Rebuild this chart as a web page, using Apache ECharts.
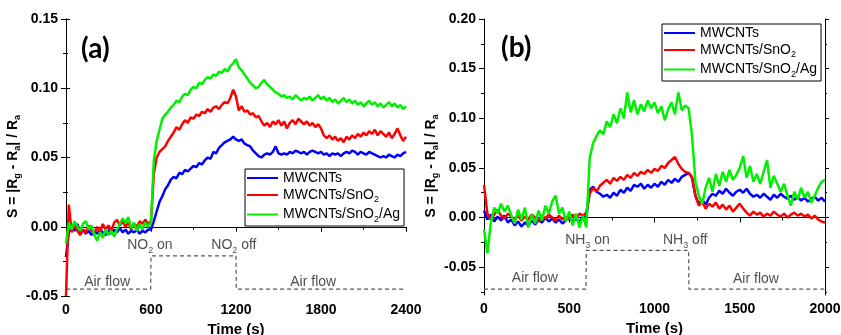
<!DOCTYPE html>
<html>
<head>
<meta charset="utf-8">
<script src="https://cdn.jsdelivr.net/npm/echarts@6/dist/echarts.min.js"></script>
<style>
  html, body { margin: 0; padding: 0; background: #fff; }
  #chart { width: 841px; height: 335px; }
</style>
</head>
<body>
<div id="chart"></div>
<script>
// Panel (a): NO2 response, sampled every 20 s from 0 to 2400 s
const stepA = 20;
const mwcntA = [
  -0.022, -0.004, 0.001, -0.003, 0.002, -0.004, -0.002, -0.005, -0.003, -0.006,
  -0.003, -0.005, -0.002, -0.004, -0.006, -0.003, -0.005, -0.002, -0.004, -0.001,
  -0.004, -0.002, -0.005, -0.003, -0.004, -0.002, -0.005, -0.003, -0.004, -0.002,
  -0.002, 0.004, 0.011, 0.018, 0.022, 0.027, 0.030, 0.034, 0.036, 0.035,
  0.039, 0.038, 0.041, 0.040, 0.042, 0.044, 0.043, 0.046, 0.045, 0.048,
  0.050, 0.049, 0.054, 0.053, 0.057, 0.059, 0.061, 0.062, 0.063, 0.065,
  0.063, 0.062, 0.063, 0.060, 0.059, 0.058, 0.055, 0.053, 0.051, 0.050,
  0.052, 0.053, 0.052, 0.054, 0.058, 0.053, 0.052, 0.053, 0.052, 0.054,
  0.053, 0.055, 0.054, 0.053, 0.054, 0.052, 0.054, 0.055, 0.054, 0.053,
  0.054, 0.052, 0.053, 0.051, 0.053, 0.052, 0.053, 0.051, 0.053, 0.054,
  0.053, 0.055, 0.054, 0.052, 0.054, 0.053, 0.052, 0.054, 0.053, 0.052,
  0.051, 0.050, 0.051, 0.050, 0.052, 0.051, 0.050, 0.052, 0.051, 0.053,
  0.054
];
const snoA = [
  -0.050, 0.016, -0.004, 0.002, -0.003, -0.006, -0.002, -0.004, 0.001, -0.003,
  -0.005, 0.000, -0.004, 0.002, -0.002, 0.001, -0.003, 0.003, 0.005, 0.001,
  0.004, 0.000, 0.003, -0.002, 0.002, 0.000, 0.004, 0.002, 0.005, 0.002,
  0.004, 0.038, 0.050, 0.054, 0.056, 0.058, 0.062, 0.065, 0.068, 0.072,
  0.070, 0.074, 0.077, 0.075, 0.079, 0.078, 0.081, 0.080, 0.083, 0.082,
  0.085, 0.083, 0.086, 0.087, 0.085, 0.088, 0.090, 0.089, 0.093, 0.099,
  0.094, 0.084, 0.087, 0.083, 0.084, 0.081, 0.082, 0.079, 0.080, 0.076,
  0.073, 0.075, 0.072, 0.076, 0.074, 0.077, 0.073, 0.076, 0.071, 0.075,
  0.077, 0.074, 0.078, 0.076, 0.074, 0.076, 0.073, 0.075, 0.072, 0.074,
  0.071, 0.066, 0.064, 0.066, 0.063, 0.065, 0.062, 0.064, 0.061, 0.065,
  0.063, 0.066, 0.064, 0.067, 0.065, 0.068, 0.066, 0.069, 0.067, 0.070,
  0.066, 0.069, 0.067, 0.065, 0.068, 0.064, 0.067, 0.071, 0.066, 0.062,
  0.065
];
const agA = [
  -0.012, 0.003, -0.002, 0.004, 0.000, -0.003, 0.002, 0.004, -0.002, 0.001,
  -0.006, -0.010, -0.004, -0.008, -0.002, -0.006, -0.003, -0.007, -0.002, 0.002,
  0.006, 0.003, 0.007, -0.001, 0.003, -0.003, 0.002, -0.002, 0.003, 0.000,
  0.003, 0.048, 0.062, 0.070, 0.078, 0.081, 0.083, 0.086, 0.088, 0.091,
  0.090, 0.094, 0.096, 0.095, 0.099, 0.101, 0.100, 0.104, 0.103, 0.106,
  0.108, 0.107, 0.110, 0.109, 0.112, 0.111, 0.114, 0.112, 0.116, 0.118,
  0.121, 0.115, 0.113, 0.110, 0.107, 0.104, 0.102, 0.100, 0.101, 0.104,
  0.106, 0.103, 0.101, 0.099, 0.097, 0.096, 0.094, 0.095, 0.093, 0.094,
  0.092, 0.095, 0.093, 0.091, 0.093, 0.092, 0.094, 0.091, 0.093, 0.095,
  0.092, 0.094, 0.091, 0.093, 0.090, 0.092, 0.089, 0.091, 0.093, 0.090,
  0.092, 0.089, 0.091, 0.088, 0.090, 0.087, 0.089, 0.091, 0.088, 0.090,
  0.087, 0.089, 0.086, 0.088, 0.090, 0.087, 0.089, 0.086, 0.088, 0.085,
  0.087
];

// Panel (b): NH3 response, sampled every 20 s from 0 to 2000 s
const stepB = 20;
const mwcntB = [
  0.007, -0.002, 0.003, -0.004, 0.001, -0.003, 0.002, -0.005, -0.002, -0.008,
  -0.004, -0.009, -0.005, -0.008, -0.003, -0.007, -0.002, -0.005, 0.000, -0.004,
  -0.001, -0.005, -0.002, -0.006, -0.003, 0.001, -0.004, -0.001, -0.005, 0.002,
  0.000, 0.028, 0.031, 0.026, 0.024, 0.021, 0.023, 0.020, 0.025, 0.022,
  0.028, 0.025, 0.030, 0.027, 0.033, 0.031, 0.034, 0.029, 0.033, 0.030,
  0.034, 0.031, 0.036, 0.033, 0.038, 0.035, 0.039, 0.036, 0.041, 0.043,
  0.045, 0.040, 0.022, 0.014, 0.018, 0.013, 0.020, 0.024, 0.022, 0.027,
  0.024, 0.029, 0.025, 0.022, 0.026, 0.028, 0.025, 0.029, 0.024, 0.021,
  0.023, 0.020, 0.024, 0.021, 0.018, 0.023, 0.020, 0.024, 0.021, 0.019,
  0.022, 0.018, 0.021, 0.017, 0.020, 0.016, 0.019, 0.021, 0.017, 0.020,
  0.016
];
const snoB = [
  0.033, 0.004, -0.002, 0.003, 0.008, 0.002, -0.001, 0.004, 0.001, -0.002,
  0.002, -0.003, 0.001, -0.002, 0.003, 0.000, -0.004, 0.002, -0.001, 0.003,
  0.000, -0.003, 0.002, -0.002, 0.001, -0.002, 0.003, -0.001, 0.004, 0.002,
  0.005, 0.024, 0.030, 0.026, 0.032, 0.035, 0.038, 0.034, 0.040, 0.037,
  0.041, 0.038, 0.043, 0.040, 0.045, 0.042, 0.046, 0.044, 0.048, 0.045,
  0.049, 0.047, 0.052, 0.050, 0.055, 0.058, 0.061, 0.054, 0.049, 0.046,
  0.045, 0.041, 0.022, 0.012, 0.016, 0.009, 0.014, 0.011, 0.015, 0.009,
  0.013, 0.008, 0.012, 0.006, 0.010, 0.014, 0.009, 0.005, 0.002, 0.006,
  0.003, 0.005, 0.001, 0.004, 0.002, 0.006, 0.003, 0.001, 0.004, 0.000,
  0.003, 0.005, 0.002, 0.004, 0.001, 0.003, -0.001, 0.002, -0.002, -0.004,
  -0.005
];
const agB = [
  -0.012, -0.036, -0.005, 0.010, 0.004, 0.014, 0.006, 0.012, 0.002, -0.006,
  0.008, -0.002, 0.010, -0.010, 0.003, -0.006, 0.007, -0.003, 0.012, 0.004,
  0.016, 0.022, 0.004, 0.010, -0.004, 0.006, -0.008, 0.004, -0.010, 0.002,
  -0.010, 0.060, 0.075, 0.082, 0.088, 0.084, 0.097, 0.091, 0.104, 0.095,
  0.110, 0.100, 0.126, 0.106, 0.118, 0.104, 0.114, 0.107, 0.118, 0.110,
  0.116, 0.105, 0.112, 0.098, 0.109, 0.116, 0.104, 0.126, 0.108, 0.113,
  0.110, 0.083, 0.036, 0.022, 0.014, 0.030, 0.040, 0.026, 0.044, 0.032,
  0.046, 0.036, 0.048, 0.038, 0.043, 0.050, 0.062, 0.040, 0.052, 0.036,
  0.044, 0.034, 0.046, 0.058, 0.030, 0.042, 0.034, 0.026, 0.034, 0.022,
  0.012, 0.026, 0.018, 0.030, 0.020, 0.026, 0.015, 0.022, 0.030, 0.036,
  0.038
];

// Gas on/off schedule traces (time, level)
const flowA = [[0, -0.045], [598, -0.045], [600, -0.021], [1200, -0.021], [1202, -0.045], [2400, -0.045]];
const flowB = [[0, -0.072], [598, -0.072], [600, -0.033], [1200, -0.033], [1202, -0.072], [2000, -0.072]];
const notesA = [[290, -0.040, 'Air flow'], [592, -0.0135, 'NO{sub|2} on'], [1185, -0.0135, 'NO{sub|2} off'], [1745, -0.040, 'Air flow']];
const notesB = [[298, -0.0615, 'Air flow'], [607, -0.0228, 'NH{sub|3} on'], [1180, -0.0228, 'NH{sub|3} off'], [1595, -0.0622, 'Air flow']];

const seriesNames = ['MWCNTs', 'MWCNTs/SnO2', 'MWCNTs/SnO2/Ag'];
const seriesColors = ['#0000ff', '#ff0000', '#00f000'];
const legendLabels = ['MWCNTs', 'MWCNTs/SnO{sub|2}', 'MWCNTs/SnO{sub|2}/Ag'];

const xTicksA = { min: 0, max: 2400, interval: 600 };
const xTicksB = { min: 0, max: 2000, interval: 500 };
const yTicksA = { min: -0.05, max: 0.15, interval: 0.05 };
const yRangeB = { min: -0.078, max: 0.2 };
const yMajorB = [-0.05, 0, 0.05, 0.1, 0.15, 0.2];
const yMinorB = [-0.075, -0.025, 0.025, 0.075, 0.125, 0.175];

const FONT = 'Liberation Sans, Arial, sans-serif';
const subRich = { sub: { fontSize: 9, verticalAlign: 'bottom', padding: [10, 0, 0, 0] } };

function pairs(step, values) {
  return values.map((v, i) => [i * step, v]);
}

const chart = echarts.init(document.getElementById('chart'), null, { renderer: 'canvas' });

const lineAxis = { show: true, lineStyle: { color: '#000', width: 1 } };
const tickLabel = { color: '#000', fontWeight: 'bold', fontSize: 14, fontFamily: FONT };
const yName = 'S = |R{sub|g} - R{sub|a}| / R{sub|a}';
const yNameStyle = {
  color: '#000', fontWeight: 'bold', fontSize: 14, fontFamily: FONT,
  padding: [0, 18, 0, 0],
  rich: { sub: { fontSize: 9, fontWeight: 'bold', fontFamily: FONT, verticalAlign: 'bottom', padding: [10, 0, 0, 0] } }
};
const xNameStyle = { color: '#000', fontWeight: 'bold', fontSize: 15, fontFamily: FONT };

function bottomAxis(grid, ticks) {
  return {
    type: 'value', gridIndex: grid, position: 'bottom',
    min: ticks.min, max: ticks.max, interval: ticks.interval,
    axisLine: lineAxis, splitLine: { show: false },
    axisTick: { show: true, length: 5, lineStyle: { color: '#000' } },
    minorTick: { show: true, splitNumber: 2, length: 3, lineStyle: { color: '#000' } },
    axisLabel: Object.assign({ margin: 7, formatter: v => String(v) }, tickLabel),
    name: 'Time (s)', nameLocation: 'middle', nameGap: 22, nameTextStyle: xNameStyle
  };
}
function topAxis(grid, ticks) {
  return {
    type: 'value', gridIndex: grid, position: 'top',
    min: ticks.min, max: ticks.max, interval: ticks.interval,
    axisLine: lineAxis, axisTick: { show: false }, axisLabel: { show: false }, splitLine: { show: false }
  };
}

const option = {
  animation: false,
  backgroundColor: '#fff',
  grid: [
    { left: 66, top: 19, width: 340, height: 277, outerBoundsMode: 'none', containLabel: false },
    { left: 484, top: 19, width: 341, height: 276, outerBoundsMode: 'none', containLabel: false }
  ],
  xAxis: [
    bottomAxis(0, xTicksA), topAxis(0, xTicksA),
    bottomAxis(1, xTicksB), topAxis(1, xTicksB)
  ],
  yAxis: [
    {
      type: 'value', gridIndex: 0, position: 'left',
      min: yTicksA.min, max: yTicksA.max, interval: yTicksA.interval,
      axisLine: lineAxis, splitLine: { show: false },
      axisTick: { show: true, length: 5, lineStyle: { color: '#000' } },
      minorTick: { show: true, splitNumber: 2, length: 3, lineStyle: { color: '#000' } },
      axisLabel: Object.assign({ margin: 8, formatter: v => v.toFixed(2) }, tickLabel),
      name: yName, nameLocation: 'middle', nameGap: 43, nameTextStyle: yNameStyle
    },
    {
      type: 'value', gridIndex: 0, position: 'right',
      min: yTicksA.min, max: yTicksA.max, interval: yTicksA.interval,
      axisLine: lineAxis, splitLine: { show: false },
      axisTick: { show: true, length: 4, lineStyle: { color: '#000' } },
      minorTick: { show: true, splitNumber: 2, length: 2, lineStyle: { color: '#000' } },
      axisLabel: { show: false }
    },
    {
      type: 'value', gridIndex: 1, position: 'left',
      min: yRangeB.min, max: yRangeB.max,
      axisLine: lineAxis, splitLine: { show: false },
      axisTick: { show: true, length: 5, customValues: yMajorB, lineStyle: { color: '#000' } },
      axisLabel: Object.assign({ margin: 8, customValues: yMajorB, formatter: v => v.toFixed(2) }, tickLabel),
      name: yName, nameLocation: 'middle', nameGap: 43, nameTextStyle: yNameStyle
    },
    {
      type: 'value', gridIndex: 1, position: 'left',
      min: yRangeB.min, max: yRangeB.max,
      axisLine: { show: false }, splitLine: { show: false }, axisLabel: { show: false },
      axisTick: { show: true, length: 3, customValues: yMinorB, lineStyle: { color: '#000' } }
    },
    {
      type: 'value', gridIndex: 1, position: 'right',
      min: yRangeB.min, max: yRangeB.max,
      axisLine: lineAxis, splitLine: { show: false }, axisLabel: { show: false },
      axisTick: { show: true, length: 4, customValues: yMajorB, lineStyle: { color: '#000' } }
    },
    {
      type: 'value', gridIndex: 1, position: 'right',
      min: yRangeB.min, max: yRangeB.max,
      axisLine: { show: false }, splitLine: { show: false }, axisLabel: { show: false },
      axisTick: { show: true, length: 2, customValues: yMinorB, lineStyle: { color: '#000' } }
    }
  ],
  legend: [
    {
      left: 245, top: 169, orient: 'vertical', selectedMode: false,
      data: seriesNames, icon: 'rect', itemWidth: 31, itemHeight: 2, itemGap: 3,
      padding: [2, 4, 2, 2], borderColor: '#000', borderWidth: 1,
      formatter: name => legendLabels[seriesNames.indexOf(name)],
      textStyle: { color: '#000', fontSize: 14, fontFamily: FONT, rich: subRich }
    },
    {
      left: 662, top: 24, orient: 'vertical', selectedMode: false,
      data: seriesNames, icon: 'rect', itemWidth: 31, itemHeight: 2, itemGap: 3,
      padding: [2, 4, 2, 2], borderColor: '#000', borderWidth: 1,
      formatter: name => legendLabels[seriesNames.indexOf(name)],
      textStyle: { color: '#000', fontSize: 14, fontFamily: FONT, rich: subRich }
    }
  ],
  graphic: [
    { type: 'text', left: 81, top: 35, style: { text: '(a)', font: 'bold 28px Lato, "Open Sans", sans-serif', fill: '#000' } },
    { type: 'text', left: 501, top: 34, style: { text: '(b)', font: 'bold 28px Lato, "Open Sans", sans-serif', fill: '#000' } }
  ],
  series: []
};

const panels = [
  { x: 0, y: 0, step: stepA, values: [mwcntA, snoA, agA], flow: flowA, notes: notesA },
  { x: 2, y: 2, step: stepB, values: [mwcntB, snoB, agB], flow: flowB, notes: notesB }
];

panels.forEach(p => {
  p.values.forEach((vals, k) => {
    option.series.push({
      type: 'line', name: seriesNames[k], xAxisIndex: p.x, yAxisIndex: p.y,
      data: pairs(p.step, vals), showSymbol: false, symbol: 'none',
      lineStyle: { color: seriesColors[k], width: 2.5 }, itemStyle: { color: seriesColors[k] },
      z: 3 + k
    });
  });
  option.series.push({
    type: 'line', name: 'flow', xAxisIndex: p.x, yAxisIndex: p.y,
    data: p.flow, showSymbol: false, symbol: 'none', silent: true,
    lineStyle: { color: '#555', width: 1.2, type: [4, 3] }, z: 2
  });
  option.series.push({
    type: 'scatter', name: 'notes', xAxisIndex: p.x, yAxisIndex: p.y,
    data: p.notes, symbolSize: 0, silent: true,
    label: {
      show: true, position: 'inside', formatter: d => d.data[2],
      color: '#222', fontSize: 14, fontFamily: FONT,
      rich: { sub: { fontSize: 9, color: '#222', verticalAlign: 'bottom', padding: [10, 0, 0, 0] } }
    }
  });
});

chart.setOption(option);
</script>
</body>
</html>
